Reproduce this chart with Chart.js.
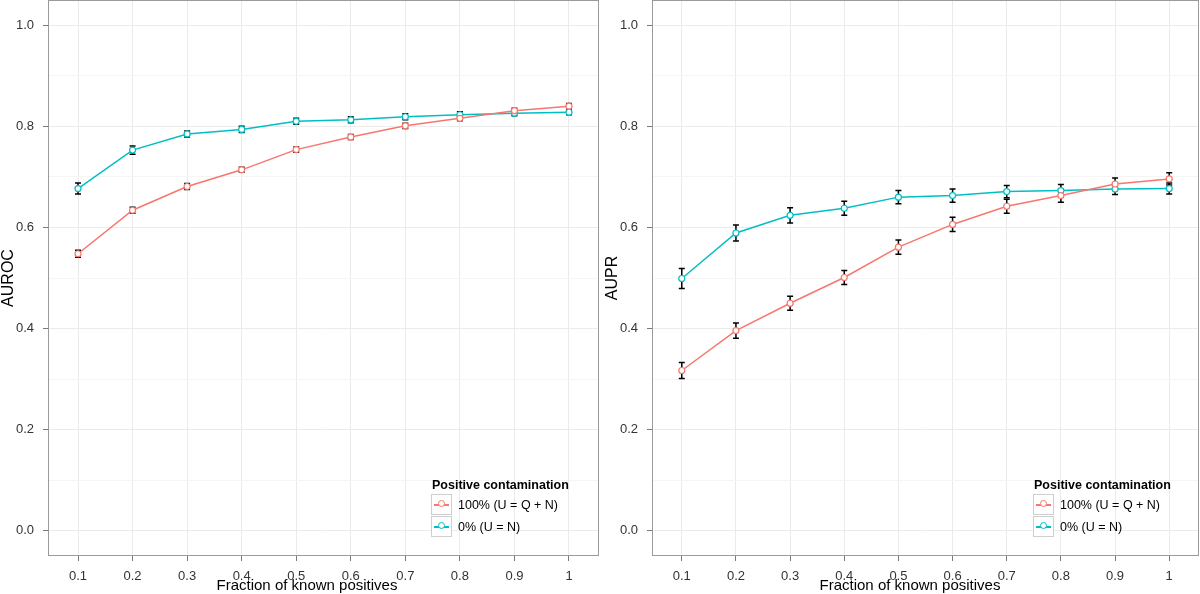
<!DOCTYPE html>
<html>
<head>
<meta charset="utf-8">
<script src="https://cdn.jsdelivr.net/npm/chart.js@4"></script>
<style>
  body { margin: 0; background: #fff; font-family: "Liberation Sans", Arial, sans-serif; }
  #wrap { position: relative; width: 1200px; height: 594px; }
  .panel { position: absolute; top: 0; width: 600px; height: 594px; }
  .xtitle { position: absolute; top: 575px; width: 300px; margin-left: -150px; text-align: center; font-size: 15px; line-height: 19px; color: #000; }
  .legend { position: absolute; font-size: 12.5px; color: #000; }
  .legend .title { font-weight: bold; height: 17px; line-height: 17px; margin-left: 1px; }
  .legend .row { position: relative; height: 22px; }
  .legend .key { position: absolute; left: 0; top: 0; width: 21px; height: 21px; border: 1px solid #cfcfcf; box-sizing: border-box; background: #fff; }
  .legend .key .ln { position: absolute; left: 2px; right: 2px; top: 9px; height: 1.5px; }
  .legend .key .pt { position: absolute; left: 6px; top: 5px; width: 7px; height: 7px; border-radius: 50%; border: 1.2px solid; background: #fff; box-sizing: border-box; }
  .legend .lab { position: absolute; left: 27px; top: 0; line-height: 22px; white-space: nowrap; }
</style>
</head>
<body>
<div id="wrap">
  <div class="panel" style="left:0"><canvas id="rocChart"></canvas></div>
  <div class="panel" style="left:600px"><canvas id="prChart"></canvas></div>
  <div class="xtitle" style="left:307px">Fraction of known positives</div>
  <div class="xtitle" style="left:910px">Fraction of known positives</div>
  <div class="legend" id="legendRoc" style="left:431px; top:477px"></div>
  <div class="legend" id="legendPr" style="left:1033px; top:477px"></div>
</div>
<script>
// x positions and tick labels
const fractions = [0.1, 0.2, 0.3, 0.4, 0.5, 0.6, 0.7, 0.8, 0.9, 1.0];
const xTickLabels = ['0.1', '0.2', '0.3', '0.4', '0.5', '0.6', '0.7', '0.8', '0.9', '1'];
const yTickValues = [0, 0.1, 0.2, 0.3, 0.4, 0.5, 0.6, 0.7, 0.8, 0.9, 1.0];

const seriesNames = ['100% (U = Q + N)', '0% (U = N)'];
const seriesColors = ['#F8766D', '#00BFC4'];

// AUROC (mean and half-width of error bar)
const aurocContaminated = [0.548, 0.634, 0.681, 0.714, 0.754, 0.779, 0.801, 0.816, 0.831, 0.840];
const aurocContaminatedErr = [0.007, 0.006, 0.006, 0.005, 0.005, 0.005, 0.005, 0.005, 0.005, 0.005];
const aurocClean = [0.677, 0.753, 0.785, 0.794, 0.810, 0.813, 0.819, 0.823, 0.826, 0.828];
const aurocCleanErr = [0.011, 0.008, 0.006, 0.006, 0.006, 0.006, 0.006, 0.006, 0.005, 0.005];

// AUPR
const auprContaminated = [0.317, 0.396, 0.450, 0.501, 0.561, 0.606, 0.642, 0.663, 0.686, 0.696];
const auprContaminatedErr = [0.016, 0.015, 0.014, 0.014, 0.014, 0.014, 0.014, 0.013, 0.012, 0.012];
const auprClean = [0.499, 0.589, 0.624, 0.638, 0.660, 0.663, 0.671, 0.673, 0.676, 0.677];
const auprCleanErr = [0.020, 0.016, 0.015, 0.014, 0.013, 0.013, 0.012, 0.012, 0.011, 0.011];

// Draw vertical error bars under the lines
const errorBars = {
    id: 'errorBars',
    beforeDatasetsDraw(chart) {
        const { ctx, scales: { x, y } } = chart;
        ctx.save();
        ctx.strokeStyle = '#000';
        ctx.lineWidth = 1.5;
        chart.data.datasets.forEach(ds => {
            ds.data.forEach((p, i) => {
                const px = x.getPixelForValue(p.x);
                const top = y.getPixelForValue(p.y + ds.errors[i]);
                const bot = y.getPixelForValue(p.y - ds.errors[i]);
                ctx.beginPath();
                ctx.moveTo(px, top); ctx.lineTo(px, bot);
                ctx.moveTo(px - 3, top); ctx.lineTo(px + 3, top);
                ctx.moveTo(px - 3, bot); ctx.lineTo(px + 3, bot);
                ctx.stroke();
            });
        });
        ctx.restore();
    }
};

// Grey border round the plot panel
const panelBorder = {
    id: 'panelBorder',
    afterDraw(chart) {
        const { ctx, chartArea: a } = chart;
        ctx.save();
        ctx.strokeStyle = '#9a9a9a';
        ctx.lineWidth = 1;
        ctx.strokeRect(a.left + 0.5, a.top + 0.5, a.right - a.left - 1, a.bottom - a.top - 1);
        ctx.restore();
    }
};

function isMajor(v) {
    return Math.round(v * 10) % 2 === 0;
}

function makeDataset(i, values, errors) {
    return {
        label: seriesNames[i],
        data: fractions.map((f, k) => ({ x: f, y: values[k] })),
        errors: errors,
        borderColor: seriesColors[i],
        backgroundColor: '#fff',
        borderWidth: 1.5,
        pointRadius: 3,
        pointBorderWidth: 1.2,
        pointBackgroundColor: '#fff',
        pointBorderColor: seriesColors[i],
        tension: 0
    };
}

function makeChart(canvasId, yTitle, contaminated, contaminatedErr, clean, cleanErr, axisWidth, titlePad, rightPad) {
    const ctx = document.getElementById(canvasId).getContext('2d');
    return new Chart(ctx, {
        type: 'line',
        data: {
            datasets: [
                makeDataset(0, contaminated, contaminatedErr),
                makeDataset(1, clean, cleanErr)
            ]
        },
        options: {
            responsive: true,
            maintainAspectRatio: false,
            animation: false,
            layout: { autoPadding: false, padding: { left: 0, right: rightPad, top: 0, bottom: 0 } },
            plugins: {
                legend: { display: false },
                tooltip: { enabled: false }
            },
            scales: {
                x: {
                    type: 'linear',
                    min: 0.045,
                    max: 1.055,
                    afterBuildTicks: scale => { scale.ticks = fractions.map(v => ({ value: v })); },
                    afterFit: scale => { scale.height = 38; scale.paddingLeft = 0; scale.paddingRight = 0; },
                    ticks: {
                        autoSkip: false,
                        maxRotation: 0,
                        padding: 8,
                        color: '#333',
                        font: { family: '"Liberation Sans", Arial, sans-serif', size: 13 },
                        callback: (v, i) => xTickLabels[i]
                    },
                    grid: { color: '#ebebeb', tickColor: '#7a7a7a', tickLength: 5, lineWidth: 1 },
                    border: { display: false }
                },
                y: {
                    type: 'linear',
                    min: -0.05,
                    max: 1.05,
                    afterBuildTicks: scale => { scale.ticks = yTickValues.map(v => ({ value: v })); },
                    afterFit: scale => { scale.width = axisWidth; scale.paddingTop = 0; scale.paddingBottom = 0; },
                    ticks: {
                        autoSkip: false,
                        padding: 9,
                        color: '#333',
                        font: { family: '"Liberation Sans", Arial, sans-serif', size: 13 },
                        callback: v => isMajor(v) ? v.toFixed(1) : ''
                    },
                    grid: {
                        color: c => isMajor(c.tick.value) ? '#ebebeb' : '#f5f5f5',
                        tickColor: c => isMajor(c.tick.value) ? '#7a7a7a' : 'rgba(0,0,0,0)',
                        tickLength: 5,
                        lineWidth: 1
                    },
                    border: { display: false },
                    title: {
                        display: true,
                        text: yTitle,
                        color: '#000',
                        font: { family: '"Liberation Sans", Arial, sans-serif', size: 16 },
                        padding: { top: titlePad, bottom: 0 }
                    }
                }
            }
        },
        plugins: [errorBars, panelBorder]
    });
}

function buildLegend(id) {
    const box = document.getElementById(id);
    let html = '<div class="title">Positive contamination</div>';
    seriesNames.forEach((name, i) => {
        html += '<div class="row"><div class="key">' +
            '<div class="ln" style="background:' + seriesColors[i] + '"></div>' +
            '<div class="pt" style="border-color:' + seriesColors[i] + '"></div>' +
            '</div><div class="lab">' + name + '</div></div>';
    });
    box.innerHTML = html;
}

makeChart('rocChart', 'AUROC', aurocContaminated, aurocContaminatedErr, aurocClean, aurocCleanErr, 48, -1, 1);
makeChart('prChart', 'AUPR', auprContaminated, auprContaminatedErr, auprClean, auprCleanErr, 52, 3, 1);
buildLegend('legendRoc');
buildLegend('legendPr');
</script>
</body>
</html>
